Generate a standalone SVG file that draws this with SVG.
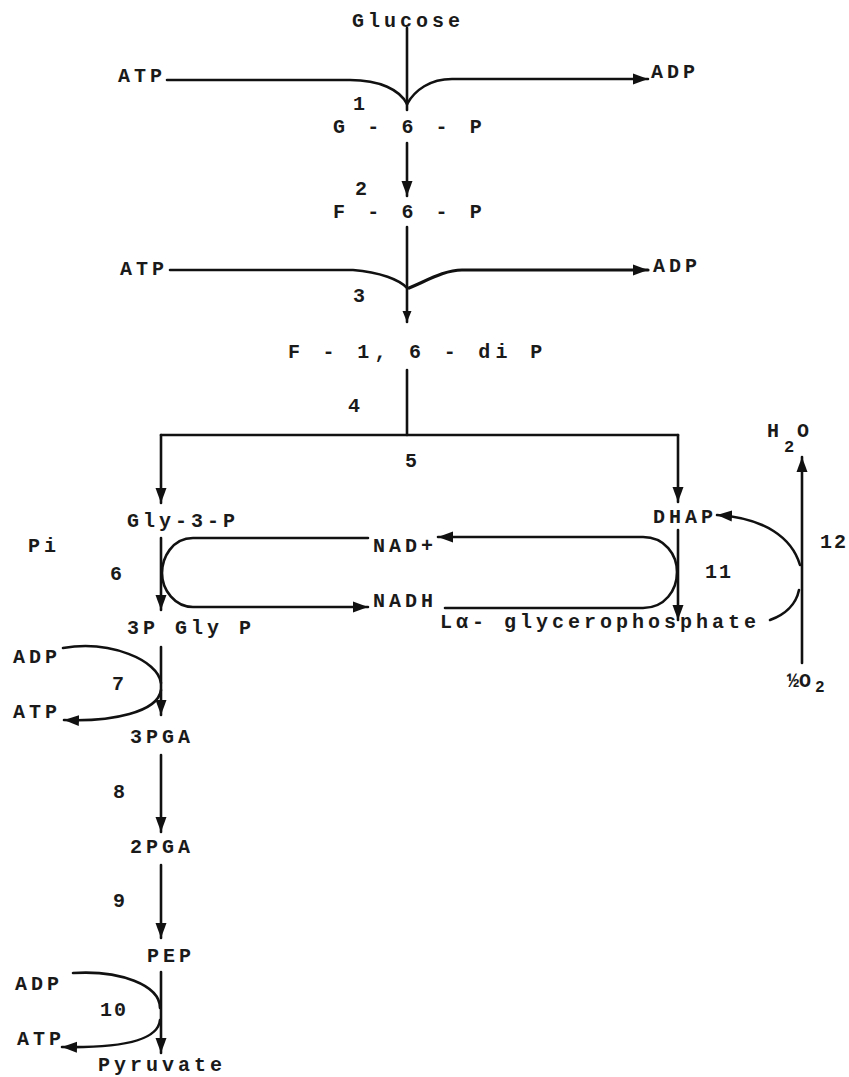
<svg xmlns="http://www.w3.org/2000/svg" width="849" height="1077" viewBox="0 0 849 1077">
<style>
text{font-family:"Liberation Mono","DejaVu Sans Mono",monospace;font-weight:bold;font-size:20px;fill:#1a1a1a;letter-spacing:4px}
.n{letter-spacing:0}
.c{fill:none;stroke:#111;stroke-width:2.6;stroke-linecap:round;stroke-linejoin:round}
.a{marker-end:url(#ah)}
.s{marker-end:url(#as)}
</style>
<defs>
<marker id="ah" markerUnits="userSpaceOnUse" markerWidth="16" markerHeight="12" refX="15" refY="6" orient="auto">
<path d="M0,0.5 L15,6 L0,11.5 z" fill="#111"/>
</marker>
<marker id="as" markerUnits="userSpaceOnUse" markerWidth="12" markerHeight="10" refX="11" refY="5" orient="auto">
<path d="M0,0.5 L11,5 L0,9.5 z" fill="#111"/>
</marker>
</defs>
<rect width="849" height="1077" fill="#fff"/>

<g id="connectors">
<!-- step 1 -->
<path class="c" d="M407,28 V110"/>
<path class="c" d="M167,80 H350 C380,80 400,90 407,104"/>
<path class="c a" d="M407,104 C415,90 430,79 452,79 H648"/>
<!-- step 2 -->
<path class="c a" d="M407,143 V196"/>
<!-- step 3 -->
<path class="c s" d="M407,227 V322"/>
<path class="c" d="M170,270 H353 C380,272 400,280 407,288"/>
<path class="c a" style="stroke-width:3.2" d="M409,288 C428,280 445,270 462,270 H648"/>
<!-- step 4/5 -->
<path class="c" d="M407,370 V435"/>
<path class="c" d="M161,435 H678"/>
<path class="c a" d="M161,435 V503"/>
<path class="c a" d="M678,435 V502"/>
<!-- step 6 -->
<path class="c a" d="M161,538 V610"/>
<path class="c a" d="M368,538 H193 C172,538 162,558 162,573 C162,590 175,607 193,607 H368"/>
<!-- step 11 -->
<path class="c a" d="M678,530 V620"/>
<path class="c a" d="M445,608 H643 C665,608 677,590 677,572 C677,555 665,537 643,537 H438"/>
<!-- step 12 -->
<path class="c a" d="M802,663 V457"/>
<path class="c a" d="M800,565 C792,538 765,518 717,515"/>
<path class="c" d="M799,590 C796,605 784,615 770,620"/>
<!-- step 7 -->
<path class="c a" d="M161,647 V715"/>
<path class="c" d="M63,648 C110,640 158,660 161,683"/>
<path class="c a" d="M161,690 C158,712 112,722 64,720"/>
<!-- step 8, 9 -->
<path class="c a" d="M161,755 V832"/>
<path class="c a" d="M161,865 V938"/>
<!-- step 10 -->
<path class="c a" d="M161,972 V1053"/>
<path class="c" d="M73,973 C120,970 160,985 160,1008"/>
<path class="c a" d="M160,1020 C158,1043 112,1048 62,1047"/>
</g>

<g id="n-glucose"><text x="352" y="27">Glucose</text></g>
<g id="n-atp1"><text x="118" y="82">ATP</text></g>
<g id="n-adp1"><text x="651" y="78">ADP</text></g>
<g id="l1"><text class="n" x="353" y="110">1</text></g>
<g id="n-g6p"><text x="333" y="133" style="letter-spacing:5.1px">G - 6 - P</text></g>
<g id="l2"><text class="n" x="355" y="195">2</text></g>
<g id="n-f6p"><text x="333" y="218" style="letter-spacing:5.1px">F - 6 - P</text></g>
<g id="n-atp2"><text x="120" y="275">ATP</text></g>
<g id="n-adp2"><text x="653" y="272">ADP</text></g>
<g id="l3"><text class="n" x="353" y="302">3</text></g>
<g id="n-f16dip"><text x="288" y="358" style="letter-spacing:5.3px">F - 1, 6 - di P</text></g>
<g id="l4"><text class="n" x="348" y="412">4</text></g>
<g id="l5"><text class="n" x="405" y="467">5</text></g>
<g id="n-gly3p"><text x="127" y="527">Gly-3-P</text></g>
<g id="n-dhap"><text x="653" y="523">DHAP</text></g>
<g id="n-pi"><text x="28" y="552">Pi</text></g>
<g id="l6"><text class="n" x="110" y="580">6</text></g>
<g id="n-nadp"><text x="373" y="552">NAD+</text></g>
<g id="n-nadh"><text x="373" y="607">NADH</text></g>
<g id="l11"><text x="705" y="578" style="letter-spacing:2px">11</text></g>
<g id="n-h2o"><text x="767" y="437" style="letter-spacing:0">H<tspan x="784" y="452" font-size="17">2</tspan><tspan x="797" y="437">O</tspan></text></g>
<g id="l12"><text x="820" y="548" style="letter-spacing:2px">12</text></g>
<g id="n-o2"><text x="787" y="687" style="letter-spacing:0">½O<tspan x="815" y="692" font-size="16">2</tspan></text></g>
<g id="n-3pglyp"><text x="127" y="634">3P Gly P</text></g>
<g id="n-lagp"><text x="440" y="628">Lα- glycerophosphate</text></g>
<g id="n-adp7"><text x="13" y="663">ADP</text></g>
<g id="l7"><text class="n" x="112" y="690">7</text></g>
<g id="n-atp7"><text x="13" y="718">ATP</text></g>
<g id="n-3pga"><text x="130" y="743">3PGA</text></g>
<g id="l8"><text class="n" x="113" y="798">8</text></g>
<g id="n-2pga"><text x="130" y="853">2PGA</text></g>
<g id="l9"><text class="n" x="113" y="907">9</text></g>
<g id="n-pep"><text x="147" y="962">PEP</text></g>
<g id="n-adp10"><text x="15" y="990">ADP</text></g>
<g id="l10"><text x="100" y="1016" style="letter-spacing:2px">10</text></g>
<g id="n-atp10"><text x="17" y="1045">ATP</text></g>
<g id="n-pyruvate"><text x="98" y="1071">Pyruvate</text></g>
</svg>
